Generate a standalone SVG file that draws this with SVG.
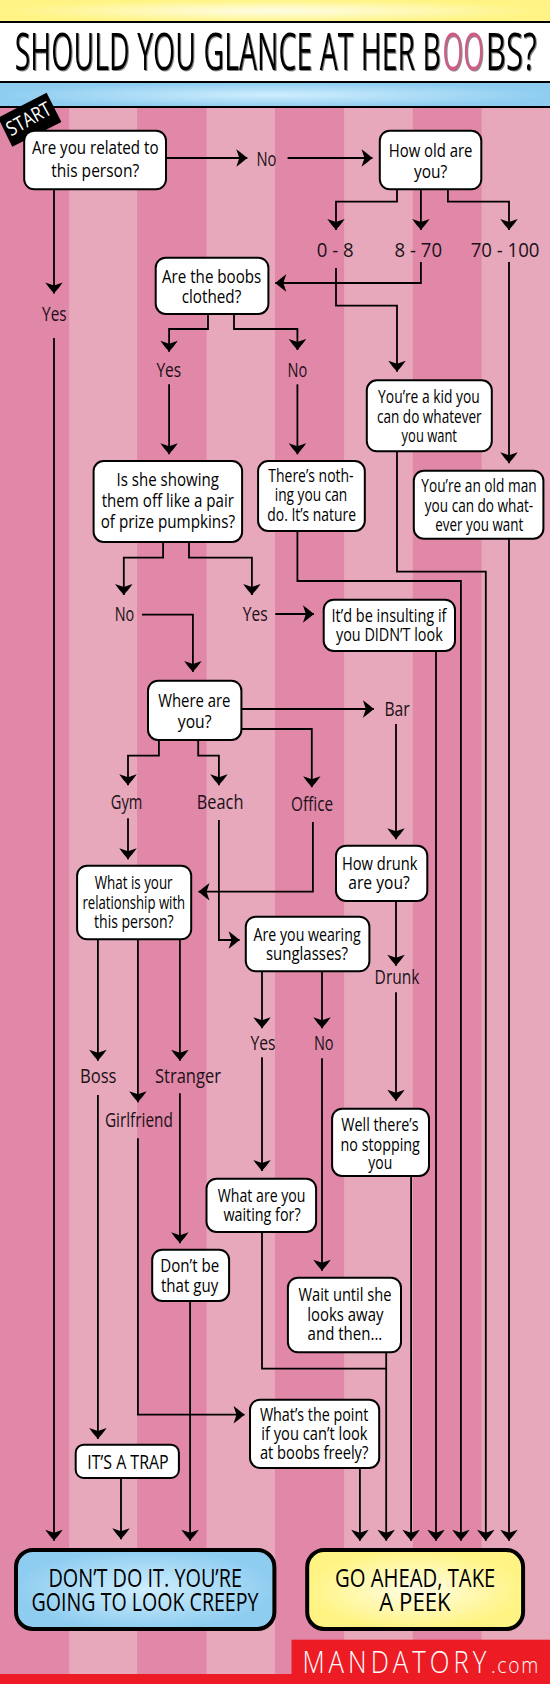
<svg xmlns="http://www.w3.org/2000/svg" width="550" height="1684" viewBox="0 0 550 1684">
<style>
text{font-family:"Open Sans","Liberation Sans",sans-serif;fill:#000}
.n{fill:#fff;stroke:#000;stroke-width:2}
.t{font-size:19px}
.l{font-size:20px;fill:#1c1018}
.e{font-size:25.5px}
.d{fill:#e188a8}
.p{fill:#e6a8ba}
.k{fill:#000}
#connectors path{fill:none;stroke:#000;stroke-width:1.8;stroke-linejoin:miter}
.a{marker-end:url(#arrow)}
</style>
<defs>
<radialGradient id="gy" cx="50%" cy="50%" r="50%"><stop offset="0" stop-color="#fffde6"/><stop offset="1" stop-color="#fff483"/></radialGradient>
<radialGradient id="gb" cx="50%" cy="50%" r="50%"><stop offset="0" stop-color="#cfeefe"/><stop offset="1" stop-color="#8fcdf0"/></radialGradient>
<filter id="sh" x="-5%" y="-20%" width="110%" height="140%"><feDropShadow dx="1" dy="1" stdDeviation="0.6" flood-color="#555" flood-opacity="0.7"/></filter>
<marker id="arrow" markerUnits="userSpaceOnUse" markerWidth="18" markerHeight="18" viewBox="-13 -9 14 18" refX="0" refY="0" orient="auto"><path d="M0 0C-3-2.500-7-6-11-8.700L-8 0-11 8.700C-7 6-3 2.500 0 0z" fill="#000"/></marker>
</defs>
<rect width="550" height="1684" class="d"/>
<rect x="69.100" y="108" width="68" height="1566" class="p"/>
<rect x="206.600" y="108" width="68.400" height="1566" class="p"/>
<rect x="344.100" y="108" width="68.700" height="1566" class="p"/>
<rect x="481.600" y="108" width="68.400" height="1566" class="p"/>
<rect x="0" y="0" width="550" height="22" fill="url(#gy)"/>
<rect x="0" y="83" width="550" height="24" fill="url(#gb)"/>
<rect x="0" y="23" width="550" height="58" fill="#fff"/>
<rect x="0" y="21" width="550" height="2" class="k"/>
<rect x="0" y="81" width="550" height="2" class="k"/>
<rect x="0" y="106" width="550" height="2" class="k"/>
<g id="title"><text y="70" font-size="51" filter="url(#sh)"><tspan x="14.700" textLength="426.300" lengthAdjust="spacingAndGlyphs">SHOULD YOU GLANCE AT HER B</tspan><tspan x="442.600" textLength="41.400" lengthAdjust="spacingAndGlyphs" fill="#cc5b88">OO</tspan><tspan x="485.800" textLength="50.900" lengthAdjust="spacingAndGlyphs">BS?</tspan></text></g>
<g id="start"><polygon points="46.600,92.700 61.400,122 12.300,146.700 0,121.700 0,116.700" class="k"/><text transform="translate(11 136.500) rotate(-29)" font-size="20" textLength="48" lengthAdjust="spacingAndGlyphs" style="fill:#fff">START</text></g>
<g id="connectors">
<path class="a" d="M54 190V293.500"/>
<path class="a" d="M54 338V1540.700"/>
<path class="a" d="M166 158H247.300"/>
<path class="a" d="M287.600 158H372.500"/>
<path class="a" d="M397 190V201.700H336V230"/>
<path class="a" d="M420.900 190V230"/>
<path class="a" d="M447.900 190V201.700H509V230"/>
<path class="a" d="M420.900 262V283H275.300"/>
<path class="a" d="M336 268V305.700H397V371.700"/>
<path class="a" d="M509 262V463.300"/>
<path class="a" d="M208 315V329H169.100V351.700"/>
<path class="a" d="M234 315V329H297.400V350"/>
<path class="a" d="M169.100 384.300V454.300"/>
<path class="a" d="M297.400 384.300V454.300"/>
<path class="a" d="M397 452V571.700H485.800V1540.700"/>
<path class="a" d="M509 539V1540.700"/>
<path class="a" d="M297.400 532V581H460.900V1540.700"/>
<path class="a" d="M163.100 543V557.700H123.800V595"/>
<path class="a" d="M189 543V557.700H251.900V595"/>
<path class="a" d="M275.300 614H313.900"/>
<path class="a" d="M142 614.700H192.900V672"/>
<path class="a" d="M436 652V1540.700"/>
<path class="a" d="M242 709H373.900"/>
<path class="a" d="M396 724V839.300"/>
<path class="a" d="M242 729H311.800V787.300"/>
<path class="a" d="M312.900 822V891.700H198.500"/>
<path class="a" d="M158.900 741V755.700H128V785.300"/>
<path class="a" d="M198.200 741V755.700H218.900V785.300"/>
<path class="a" d="M128 818.300V859.300"/>
<path class="a" d="M218.900 820V940H239.600"/>
<path class="a" d="M396 902V965.700"/>
<path class="a" d="M396 992.300V1100.700"/>
<path class="a" d="M411.100 1177V1540.700"/>
<path class="a" d="M97.900 940V1060.700"/>
<path class="a" d="M137.900 940V1102.300"/>
<path class="a" d="M179.900 940V1060.700"/>
<path class="a" d="M262 972V1028.300"/>
<path class="a" d="M322 972V1028.300"/>
<path class="a" d="M97.900 1095V1439"/>
<path class="a" d="M137.900 1138.300V1414.700H244.500"/>
<path class="a" d="M179.900 1093.300V1243.300"/>
<path class="a" d="M262 1057.300V1171"/>
<path class="a" d="M322 1058.300V1270.700"/>
<path d="M262 1233V1368.700H386.200"/>
<path class="a" d="M386.200 1353V1540.700"/>
<path class="a" d="M190.100 1302V1540.700"/>
<path class="a" d="M359.900 1469V1540.700"/>
<path class="a" d="M121 1479V1539.300"/>
</g>
<g id="n1"><rect x="24.200" y="130.700" width="141.800" height="58.600" rx="10" class="n"/><text class="t" x="31.900" y="154" textLength="126.600" lengthAdjust="spacingAndGlyphs">Are you related to</text><text class="t" x="51.200" y="176.700" textLength="88" lengthAdjust="spacingAndGlyphs">this person?</text></g>
<g id="n2"><rect x="379.800" y="130.700" width="101.500" height="58.600" rx="10" class="n"/><text class="t" x="388.700" y="156.700" textLength="83.800" lengthAdjust="spacingAndGlyphs">How old are</text><text class="t" x="413.900" y="178" textLength="33.300" lengthAdjust="spacingAndGlyphs">you?</text></g>
<g id="n3"><rect x="155.700" y="257.700" width="112.700" height="56.300" rx="10" class="n"/><text class="t" x="162" y="282.700" textLength="99.300" lengthAdjust="spacingAndGlyphs">Are the boobs</text><text class="t" x="181.700" y="303" textLength="59.600" lengthAdjust="spacingAndGlyphs">clothed?</text></g>
<g id="n4"><rect x="366.800" y="380.300" width="125" height="71" rx="10" class="n"/><text class="t" x="378.100" y="403.300" textLength="101.700" lengthAdjust="spacingAndGlyphs">You’re a kid you</text><text class="t" x="377" y="422.700" textLength="104.600" lengthAdjust="spacingAndGlyphs">can do whatever</text><text class="t" x="401.600" y="441.700" textLength="55.400" lengthAdjust="spacingAndGlyphs">you want</text></g>
<g id="n5"><rect x="413.800" y="470.700" width="129.600" height="68" rx="10" class="n"/><text class="t" x="421.300" y="492" textLength="115.400" lengthAdjust="spacingAndGlyphs">You’re an old man</text><text class="t" x="424.800" y="511.700" textLength="108.400" lengthAdjust="spacingAndGlyphs">you can do what-</text><text class="t" x="435.300" y="530.700" textLength="88" lengthAdjust="spacingAndGlyphs">ever you want</text></g>
<g id="n6"><rect x="93.600" y="461" width="148.500" height="81" rx="10" class="n"/><text class="t" x="116.500" y="485.700" textLength="102.400" lengthAdjust="spacingAndGlyphs">Is she showing</text><text class="t" x="101.700" y="507" textLength="132.300" lengthAdjust="spacingAndGlyphs">them off like a pair</text><text class="t" x="100.700" y="528" textLength="134.300" lengthAdjust="spacingAndGlyphs">of prize pumpkins?</text></g>
<g id="n7"><rect x="258.100" y="461" width="106.700" height="70" rx="10" class="n"/><text class="t" x="268.300" y="482" textLength="85.300" lengthAdjust="spacingAndGlyphs">There’s noth-</text><text class="t" x="274.700" y="501.300" textLength="72.600" lengthAdjust="spacingAndGlyphs">ing you can</text><text class="t" x="267.300" y="520.700" textLength="88.700" lengthAdjust="spacingAndGlyphs">do. It’s nature</text></g>
<g id="n8"><rect x="323.700" y="599.700" width="131.300" height="51.300" rx="10" class="n"/><text class="t" x="331.500" y="621.700" textLength="115" lengthAdjust="spacingAndGlyphs">It’d be insulting if</text><text class="t" x="336" y="641.300" textLength="106.700" lengthAdjust="spacingAndGlyphs">you DIDN’T look</text></g>
<g id="n9"><rect x="148" y="680.700" width="93.400" height="59.300" rx="10" class="n"/><text class="t" x="158.200" y="706.700" textLength="72.300" lengthAdjust="spacingAndGlyphs">Where are</text><text class="t" x="177.800" y="727.500" textLength="33.700" lengthAdjust="spacingAndGlyphs">you?</text></g>
<g id="n10"><rect x="77.100" y="865.700" width="114.100" height="73.600" rx="10" class="n"/><text class="t" x="94.700" y="889.300" textLength="77.900" lengthAdjust="spacingAndGlyphs">What is your</text><text class="t" x="82.400" y="908.700" textLength="102.800" lengthAdjust="spacingAndGlyphs">relationship with</text><text class="t" x="94" y="928" textLength="79.600" lengthAdjust="spacingAndGlyphs">this person?</text></g>
<g id="n11"><rect x="336" y="845.700" width="91.300" height="55.300" rx="10" class="n"/><text class="t" x="342" y="870" textLength="75.400" lengthAdjust="spacingAndGlyphs">How drunk</text><text class="t" x="348.300" y="889.300" textLength="61.400" lengthAdjust="spacingAndGlyphs">are you?</text></g>
<g id="n12"><rect x="245.800" y="916.700" width="123.600" height="54.600" rx="10" class="n"/><text class="t" x="253.600" y="941" textLength="107" lengthAdjust="spacingAndGlyphs">Are you wearing</text><text class="t" x="265.900" y="960" textLength="82.100" lengthAdjust="spacingAndGlyphs">sunglasses?</text></g>
<g id="n13"><rect x="332.100" y="1108.700" width="96.900" height="67.300" rx="10" class="n"/><text class="t" x="341.300" y="1131" textLength="77.200" lengthAdjust="spacingAndGlyphs">Well there’s</text><text class="t" x="340.600" y="1150.700" textLength="79.300" lengthAdjust="spacingAndGlyphs">no stopping</text><text class="t" x="368.300" y="1169.300" textLength="23.900" lengthAdjust="spacingAndGlyphs">you</text></g>
<g id="n14"><rect x="206.500" y="1178.700" width="109.600" height="53.300" rx="10" class="n"/><text class="t" x="217.800" y="1202" textLength="87.700" lengthAdjust="spacingAndGlyphs">What are you</text><text class="t" x="223.400" y="1221" textLength="77.200" lengthAdjust="spacingAndGlyphs">waiting for?</text></g>
<g id="n15"><rect x="152.200" y="1249.700" width="76.900" height="51.300" rx="10" class="n"/><text class="t" x="160.300" y="1272.300" textLength="58.900" lengthAdjust="spacingAndGlyphs">Don’t be</text><text class="t" x="161" y="1291.700" textLength="57.200" lengthAdjust="spacingAndGlyphs">that guy</text></g>
<g id="n16"><rect x="287.900" y="1277.700" width="113.100" height="74.600" rx="10" class="n"/><text class="t" x="298.500" y="1301" textLength="93" lengthAdjust="spacingAndGlyphs">Wait until she</text><text class="t" x="307.300" y="1320.700" textLength="76.100" lengthAdjust="spacingAndGlyphs">looks away</text><text class="t" x="307.600" y="1340" textLength="74.700" lengthAdjust="spacingAndGlyphs">and then...</text></g>
<g id="n17"><rect x="250" y="1399.700" width="129.200" height="68.300" rx="10" class="n"/><text class="t" x="259.900" y="1420.700" textLength="108.400" lengthAdjust="spacingAndGlyphs">What’s the point</text><text class="t" x="261.300" y="1440" textLength="106.300" lengthAdjust="spacingAndGlyphs">if you can’t look</text><text class="t" x="259.900" y="1459.300" textLength="108.400" lengthAdjust="spacingAndGlyphs">at boobs freely?</text></g>
<g id="n18"><rect x="75.700" y="1444.700" width="103.200" height="33.300" rx="8" class="n"/><text class="t" x="87.300" y="1469.300" textLength="81.400" lengthAdjust="spacingAndGlyphs" style="font-size:20.500px">IT’S A TRAP</text></g>
<g id="endA"><rect x="16" y="1550" width="258.400" height="79" rx="17" fill="url(#gb)" stroke="#000" stroke-width="4"/><text class="e" x="48.400" y="1586.700" textLength="193.600" lengthAdjust="spacingAndGlyphs">DON’T DO IT. YOU’RE</text><text class="e" x="31.600" y="1611.300" textLength="226.900" lengthAdjust="spacingAndGlyphs">GOING TO LOOK CREEPY</text></g>
<g id="endB"><rect x="307.200" y="1550" width="215.900" height="79" rx="17" fill="url(#gy)" stroke="#000" stroke-width="4"/><text class="e" x="335" y="1586.700" textLength="160.300" lengthAdjust="spacingAndGlyphs">GO AHEAD, TAKE</text><text class="e" x="379.200" y="1611.300" textLength="71.500" lengthAdjust="spacingAndGlyphs">A PEEK</text></g>
<g id="labels">
<g id="l-no1"><text class="l" x="256.400" y="165.700" textLength="20" lengthAdjust="spacingAndGlyphs">No</text></g>
<g id="l-0-8"><text class="l" x="316.700" y="256.700" textLength="36.900" lengthAdjust="spacingAndGlyphs">0 - 8</text></g>
<g id="l-8-70"><text class="l" x="394.600" y="256.700" textLength="47.400" lengthAdjust="spacingAndGlyphs">8 - 70</text></g>
<g id="l-70-100"><text class="l" x="470.700" y="256.700" textLength="68.800" lengthAdjust="spacingAndGlyphs">70 - 100</text></g>
<g id="l-yes1"><text class="l" x="42.100" y="321" textLength="24.500" lengthAdjust="spacingAndGlyphs">Yes</text></g>
<g id="l-yes2"><text class="l" x="156.400" y="377.300" textLength="24.900" lengthAdjust="spacingAndGlyphs">Yes</text></g>
<g id="l-no2"><text class="l" x="287.600" y="376.700" textLength="19.700" lengthAdjust="spacingAndGlyphs">No</text></g>
<g id="l-no3"><text class="l" x="114.700" y="620.700" textLength="19.600" lengthAdjust="spacingAndGlyphs">No</text></g>
<g id="l-yes3"><text class="l" x="242.700" y="620.700" textLength="24.900" lengthAdjust="spacingAndGlyphs">Yes</text></g>
<g id="l-bar"><text class="l" x="384.400" y="715.700" textLength="25.300" lengthAdjust="spacingAndGlyphs">Bar</text></g>
<g id="l-gym"><text class="l" x="110.800" y="809.300" textLength="31.600" lengthAdjust="spacingAndGlyphs">Gym</text></g>
<g id="l-beach"><text class="l" x="196.800" y="809.300" textLength="46.600" lengthAdjust="spacingAndGlyphs">Beach</text></g>
<g id="l-office"><text class="l" x="291.100" y="810.700" textLength="42.100" lengthAdjust="spacingAndGlyphs">Office</text></g>
<g id="l-drunk"><text class="l" x="374.600" y="984.300" textLength="44.900" lengthAdjust="spacingAndGlyphs">Drunk</text></g>
<g id="l-yes4"><text class="l" x="250.400" y="1050.300" textLength="25" lengthAdjust="spacingAndGlyphs">Yes</text></g>
<g id="l-no4"><text class="l" x="313.900" y="1050.300" textLength="19.700" lengthAdjust="spacingAndGlyphs">No</text></g>
<g id="l-boss"><text class="l" x="80" y="1083.300" textLength="36.500" lengthAdjust="spacingAndGlyphs">Boss</text></g>
<g id="l-stranger"><text class="l" x="155" y="1083.300" textLength="66" lengthAdjust="spacingAndGlyphs">Stranger</text></g>
<g id="l-girlfriend"><text class="l" x="104.900" y="1127.300" textLength="68" lengthAdjust="spacingAndGlyphs">Girlfriend</text></g>
</g>
<g id="logo"><rect x="291.500" y="1639.700" width="258.500" height="44.300" fill="#ed1c24"/><rect x="0" y="1674" width="550" height="10" fill="#ed1c24"/><text y="1672.700" style="fill:#fff"><tspan x="302.400" font-size="32" font-weight="300" textLength="188" lengthAdjust="spacingAndGlyphs" letter-spacing="5">MANDATORY</tspan><tspan x="491" font-size="22" font-weight="300" textLength="49" lengthAdjust="spacingAndGlyphs" letter-spacing="2">.com</tspan></text></g>
</svg>
